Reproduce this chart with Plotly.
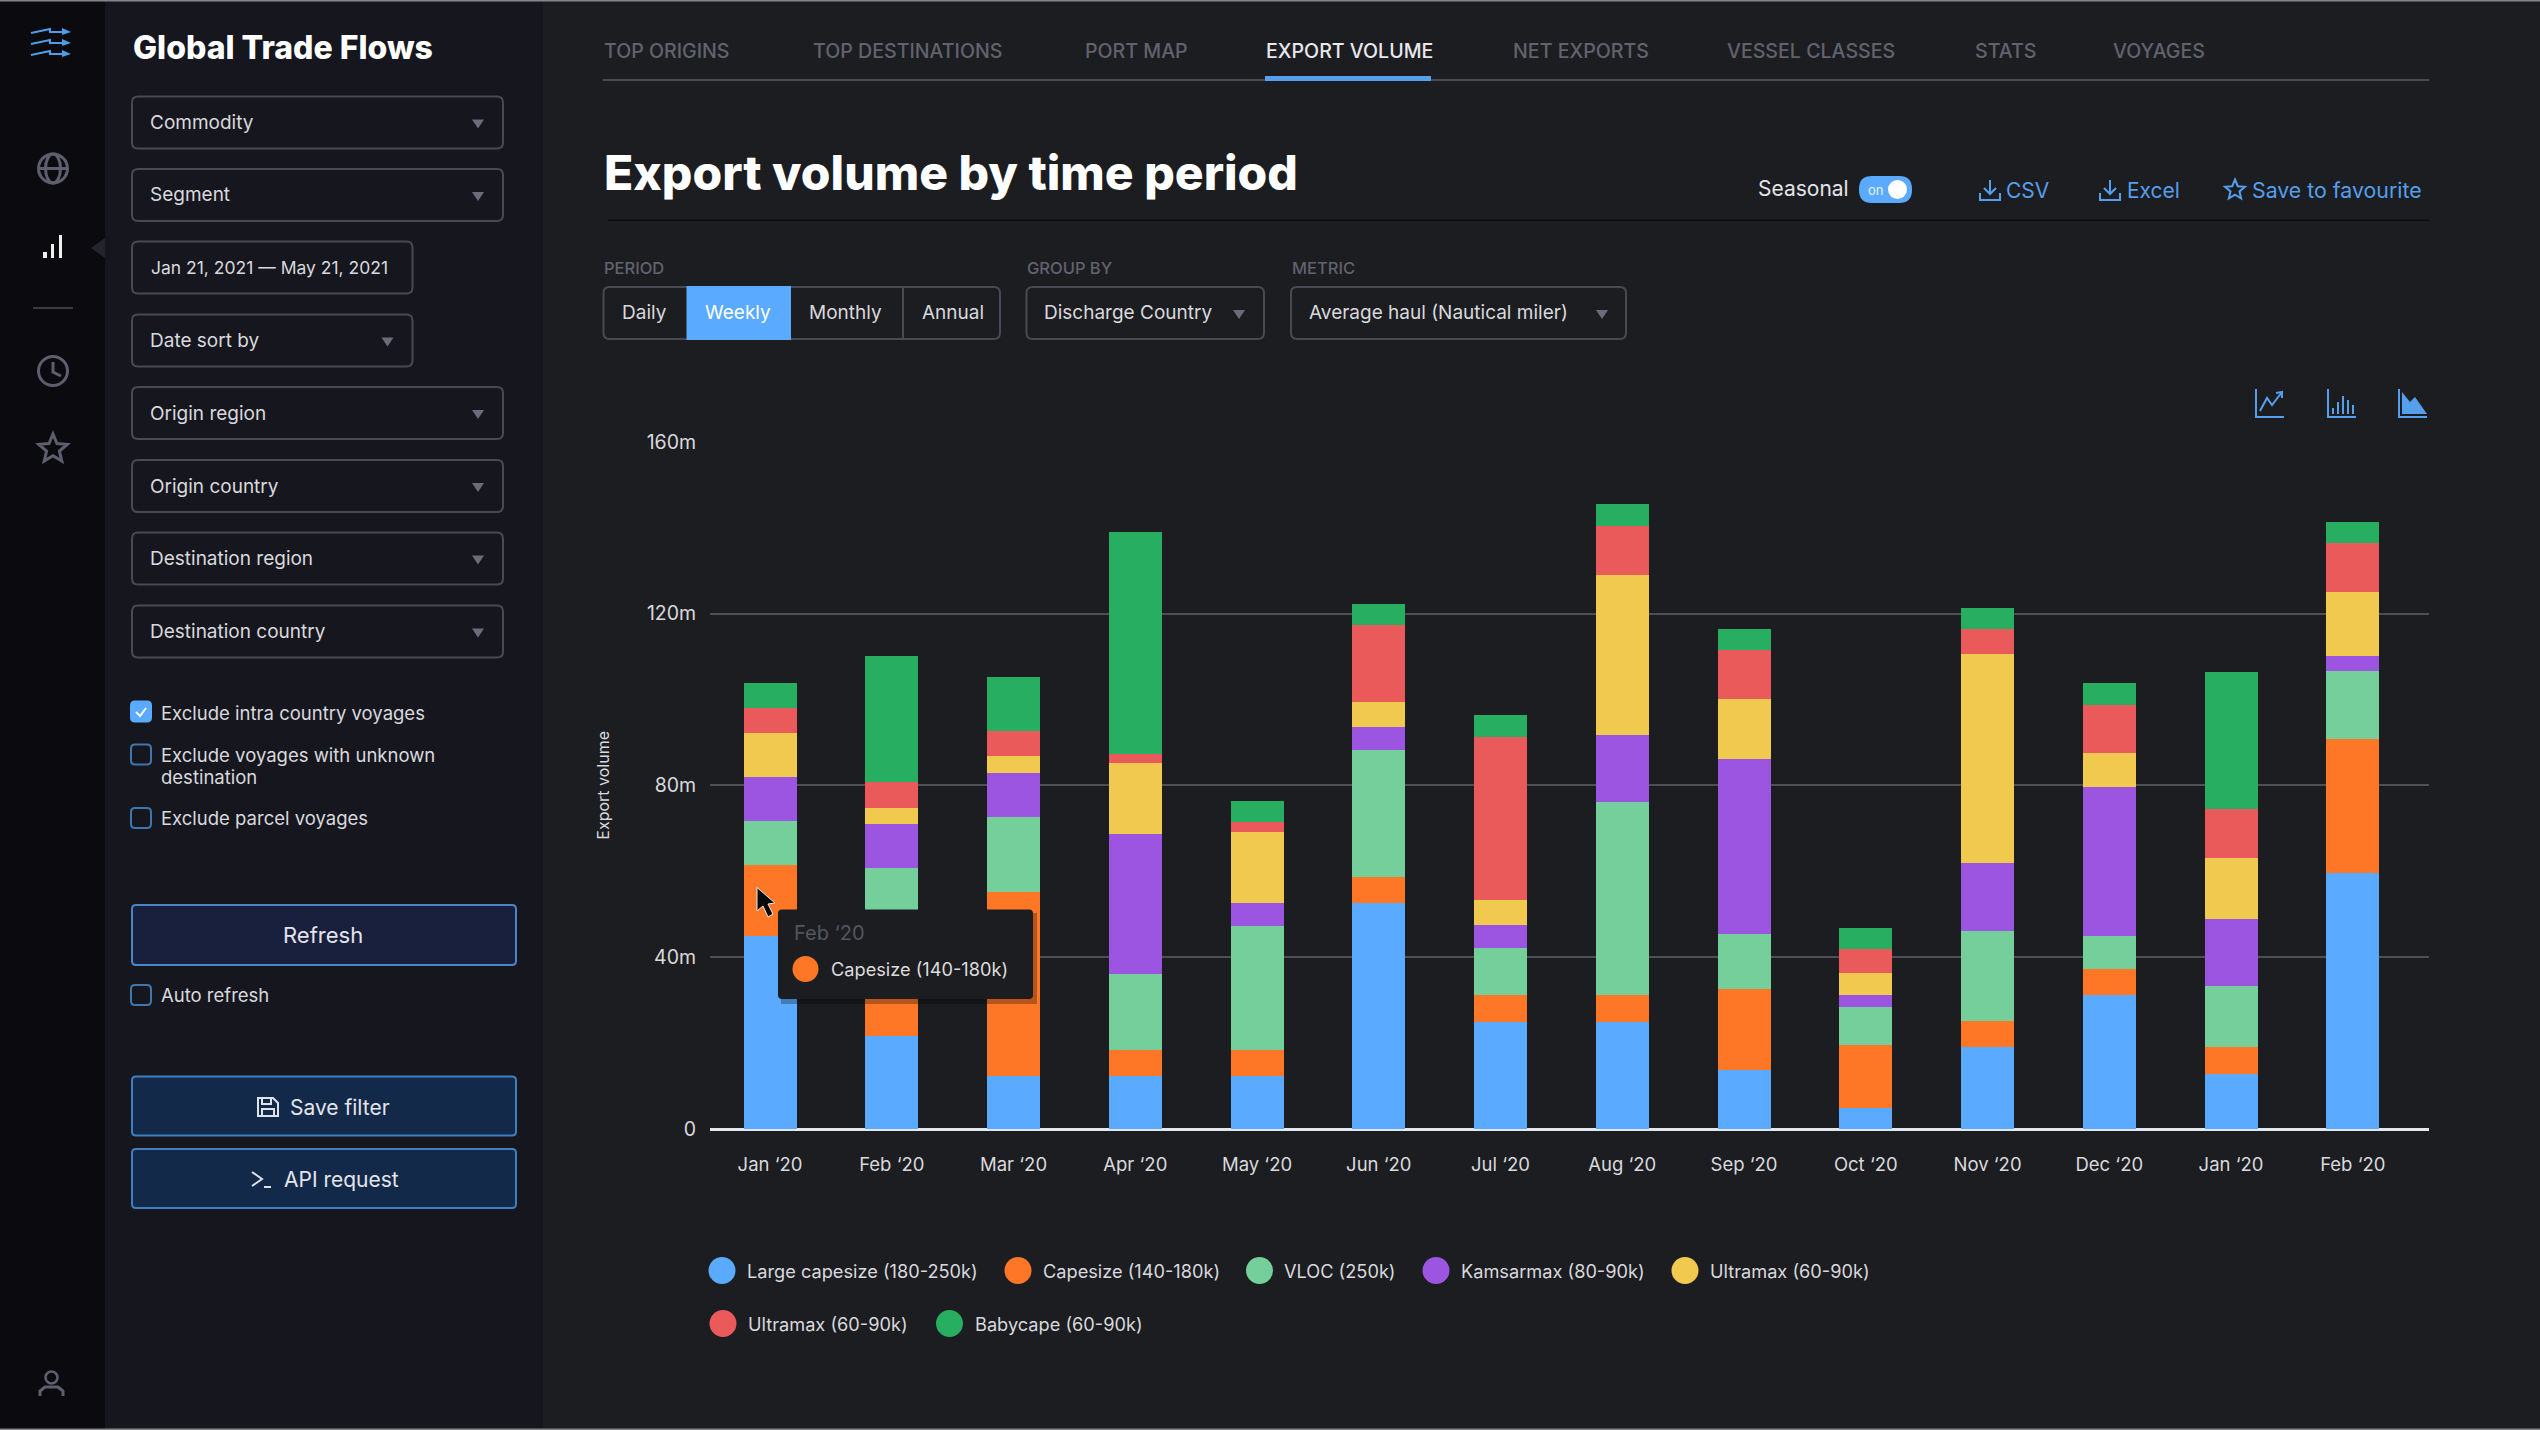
import math
import plotly.graph_objects as go

W, H = 2540, 1430

# chart data (millions per month)
months = ["Jan ‘20", "Feb ‘20", "Mar ‘20", "Apr ‘20", "May ‘20", "Jun ‘20", "Jul ‘20",
          "Aug ‘20", "Sep ‘20", "Oct ‘20", "Nov ‘20", "Dec ‘20", "Jan ‘20", "Feb ‘20"]
large_capesize = [45, 21.6, 12.4, 12.4, 12.4, 52.7, 24.8, 24.8, 13.7, 4.8, 19.1, 31.1, 12.8, 59.5]
capesize = [16.4, 18.4, 42.7, 6.1, 6.1, 6, 6.4, 6.4, 18.9, 14.8, 6, 6.1, 6.2, 31.3]
vloc = [10.3, 20.8, 17.5, 17.5, 28.8, 29.6, 11, 44.9, 12.7, 8.7, 21.1, 7.8, 14.2, 15.8]
kamsarmax = [10.2, 10.1, 10.3, 32.7, 5.3, 5.3, 5.2, 15.7, 40.9, 3, 15.7, 34.7, 15.7, 3.6]
ultramax_a = [10.3, 3.9, 3.9, 16.5, 16.6, 5.9, 5.9, 37.2, 13.9, 5.1, 48.6, 7.8, 14.2, 14.9]
ultramax_b = [5.8, 5.9, 5.8, 2.2, 2.2, 17.8, 38, 11.3, 11.3, 5.4, 5.8, 11.3, 11.4, 11.3]
babycape = [5.8, 29.3, 12.7, 51.5, 5, 5, 5, 5.1, 5, 4.9, 4.9, 5, 31.8, 5]

series_names = ["Large capesize (180-250k)", "Capesize (140-180k)", "VLOC (250k)", "Kamsarmax (80-90k)",
                "Ultramax (60-90k)", "Ultramax (60-90k)", "Babycape (60-90k)"]
series_values = [large_capesize, capesize, vloc, kamsarmax, ultramax_a, ultramax_b, babycape]
series_colors = ["#5aabff", "#fd7726", "#74cf9b", "#9b55e0", "#f2c94f", "#eb5a5a", "#27ae60"]
y_ticks = [0, 40, 80, 120, 160]
y_tick_labels = ["0", "40m", "80m", "120m", "160m"]

FONT = "Inter"
BLUE = "#559fec"
TEXT = "#d9d9dd"
MUTED = "#62626e"
BORDER = "#494954"
ICON = "#5e5e6e"

shapes = []
annotations = []


def fx(px):
    return px / W


def fy(py):
    return 1 - py / H


def add_shape(**kw):
    shapes.append(dict(xref="paper", yref="paper", **kw))


def rect(x0, y0, x1, y1, fill=None, line=None, width=2, layer="above"):
    add_shape(type="rect", x0=fx(x0), x1=fx(x1), y0=fy(y1), y1=fy(y0), layer=layer,
              fillcolor=fill or "rgba(0,0,0,0)",
              line=dict(color=line or "rgba(0,0,0,0)", width=width if line else 0))


def round_rect(x0, y0, x1, y1, r=6, fill=None, line=BORDER, width=2):
    def p(x, y):
        return f"{fx(x):.6f},{fy(y):.6f}"
    d = (f"M{p(x0 + r, y0)} L{p(x1 - r, y0)} Q{p(x1, y0)} {p(x1, y0 + r)} L{p(x1, y1 - r)} "
         f"Q{p(x1, y1)} {p(x1 - r, y1)} L{p(x0 + r, y1)} Q{p(x0, y1)} {p(x0, y1 - r)} "
         f"L{p(x0, y0 + r)} Q{p(x0, y0)} {p(x0 + r, y0)} Z")
    add_shape(type="path", path=d, fillcolor=fill or "rgba(0,0,0,0)",
              line=dict(color=line or "rgba(0,0,0,0)", width=width if line else 0))


def poly(points, color=ICON, width=3, fill=None, close=False):
    d = "M" + " L".join(f"{fx(x):.6f},{fy(y):.6f}" for x, y in points)
    if close:
        d += " Z"
    add_shape(type="path", path=d, fillcolor=fill or "rgba(0,0,0,0)",
              line=dict(color=color, width=width))


def circle(cx, cy, rx, ry=None, fill=None, line=None, width=3):
    ry = ry or rx
    add_shape(type="circle", x0=fx(cx - rx), x1=fx(cx + rx), y0=fy(cy + ry), y1=fy(cy - ry),
              fillcolor=fill or "rgba(0,0,0,0)",
              line=dict(color=line or "rgba(0,0,0,0)", width=width if line else 0))


def text(x, y, s, size=19, color=TEXT, anchor="left", weight=400, family=FONT):
    annotations.append(dict(xref="paper", yref="paper", x=fx(x), y=fy(y), text=s, showarrow=False,
                            xanchor=anchor, yanchor="middle", borderpad=0,
                            font=dict(family=family, size=size, color=color, weight=weight)))


def star(cx, cy, r, color=ICON, width=3):
    pts = []
    for i in range(10):
        a = -math.pi / 2 + i * math.pi / 5
        rr = r if i % 2 == 0 else r * 0.45
        pts.append((cx + rr * math.cos(a), cy + rr * math.sin(a)))
    poly(pts, color=color, width=width, close=True)


def download_icon(x, y):
    poly([(x + 10, y), (x + 10, y + 13)], BLUE, 2)
    poly([(x + 4, y + 8), (x + 10, y + 14), (x + 16, y + 8)], BLUE, 2)
    poly([(x, y + 13), (x, y + 20), (x + 20, y + 20), (x + 20, y + 13)], BLUE, 2)


def triangle_down(cx, cy):
    poly([(cx - 6, cy - 4), (cx + 6, cy - 4), (cx, cy + 5)], color="#6b6b7a", width=0, fill="#6b6b7a", close=True)


# background panels
rect(0, 0, 105, H, fill="#0a0a0f", layer="below")
rect(105, 0, 543, H, fill="#16171e", layer="below")
rect(0, 0, W, 1.5, fill="#85858a")
rect(0, H - 1.5, W, H, fill="#85858a")

# left rail icons
for y0 in (30, 41, 52):
    poly([(31, y0 + 3), (50, y0 - 1), (50, y0 + 2), (63, y0 + 2)], "#4d9de8", 2)
    poly([(62, y0 - 2), (71, y0 + 2), (62, y0 + 5)], "#4d9de8", 0, fill="#4d9de8", close=True)
circle(53, 168.5, 14.5, line=ICON)
circle(53, 168.5, 7.5, 14.5, line=ICON)
poly([(39, 168.5), (67, 168.5)])
rect(43, 252, 47, 258, fill="#f0f0f0")
rect(51, 244, 54, 258, fill="#f0f0f0")
rect(59, 235, 62, 258, fill="#f0f0f0")
poly([(105, 238), (91, 248), (105, 258)], "#24242c", 0, fill="#24242c", close=True)
poly([(33, 308), (73, 308)], "#3c3c46", 2)
circle(53, 371, 14.5, line=ICON)
poly([(53, 362), (53, 372), (61, 376)])
star(53, 449, 15)
circle(51.5, 1377.5, 6, line=ICON, width=2.5)
poly([(40, 1396), (40, 1391), (45, 1387), (58, 1387), (63, 1391), (63, 1396)], ICON, 3)

# filter panel
text(132, 48, "Global Trade Flows", size=32, color="#ffffff", weight=800)
dropdowns = [("Commodity", 96.5, 503), ("Segment", 169, 503), ("Date sort by", 314.5, 412.5),
             ("Origin region", 387, 503), ("Origin country", 460, 503),
             ("Destination region", 532.5, 503), ("Destination country", 605.5, 503)]
for label, top, right in dropdowns:
    round_rect(132, top, right, top + 52)
    text(148.5, top + 26, label)
    triangle_down(right - 25, top + 27)
round_rect(132, 241.5, 412.5, 293.5)
text(150, 267.5, "Jan 21, 2021 — May 21, 2021", size=17.5)

checks = [(701.5, True), (744.5, False), (808, False), (985, False)]
for top, on in checks:
    round_rect(131, top, 151, top + 20, r=4, fill=("#5aabff" if on else None), line=("#5aabff" if on else "#3f76ae"))
poly([(136, 712), (140, 716), (146, 708)], "#ffffff", 2)
text(160, 712.5, "Exclude intra country voyages", size=18.5)
text(160, 754.5, "Exclude voyages with unknown", size=18.5)
text(160, 777, "destination", size=18.5)
text(160, 818, "Exclude parcel voyages", size=18.5)
text(160, 995, "Auto refresh", size=18.5)

round_rect(132, 905, 516, 965, r=4, fill="#19203d", line="#4a86c5")
text(322.5, 935, "Refresh", size=22, color="#e4e4ea", anchor="center")
round_rect(132, 1076.5, 516, 1135.5, r=4, fill="#12294a", line="#3f7fc0")
text(340, 1107, "Save filter", size=21, color="#e4e4ea", anchor="center")
round_rect(132, 1149, 516, 1208, r=4, fill="#12294a", line="#3f7fc0")
text(341, 1179.5, "API request", size=21, color="#e4e4ea", anchor="center")
# save + terminal icons
poly([(258, 1098), (273, 1098), (278, 1103), (278, 1116), (258, 1116)], "#dfe3ea", 2, close=True)
poly([(262, 1098), (262, 1104), (271, 1104), (271, 1098)], "#dfe3ea", 2)
poly([(262, 1116), (262, 1109), (274, 1109), (274, 1116)], "#dfe3ea", 2)
poly([(252, 1172), (262, 1179), (252, 1186)], "#dfe3ea", 2)
poly([(264, 1187), (271, 1187)], "#dfe3ea", 2)

# tabs
tabs = [("TOP ORIGINS", 603), ("TOP DESTINATIONS", 812), ("PORT MAP", 1084), ("EXPORT VOLUME", 1265),
        ("NET EXPORTS", 1512), ("VESSEL CLASSES", 1726), ("STATS", 1974), ("VOYAGES", 2112)]
for label, x in tabs:
    active = label == "EXPORT VOLUME"
    text(x, 51, label, size=19.6, color="#e8e8ec" if active else MUTED, weight=500)
rect(603, 79, 2429, 81, fill="#4a4a55")
rect(1265, 76, 1431, 81, fill="#559fec")

# heading row
text(603, 172, "Export volume by time period", size=48, color="#ffffff", weight=800)
rect(608, 219.5, 2429, 221, fill="#0c0c10")
text(1757, 189, "Seasonal", size=21, color="#e4e4e8")
round_rect(1859, 176, 1912, 203, r=13, fill="#5aabff", line=None)
circle(1897.5, 189.5, 9.5, fill="#ffffff")
text(1875, 190, "on", size=13, color="#e8f2ff", anchor="center")
download_icon(1980, 180)
text(2005, 190, "CSV", size=21, color=BLUE)
download_icon(2100, 180)
text(2126, 190, "Excel", size=21, color=BLUE)
star(2235, 190, 10.5, color=BLUE, width=2)
text(2251, 190, "Save to favourite", size=21.3, color=BLUE)

# period / group by / metric controls
text(603, 268, "PERIOD", size=16.5, color=MUTED, weight=500)
text(1026, 268, "GROUP BY", size=16.5, color=MUTED, weight=500)
text(1291, 268, "METRIC", size=16.5, color=MUTED, weight=500)
round_rect(603.5, 287, 1000, 339)
rect(686.5, 286, 791, 340, fill="#5aabff")
poly([(903, 287), (903, 339)], BORDER, 2)
for label, x in [("Daily", 644.5), ("Weekly", 737.5), ("Monthly", 845), ("Annual", 953)]:
    text(x, 313, label, color="#ffffff" if label == "Weekly" else TEXT, anchor="center")
round_rect(1026.5, 287, 1264, 339)
text(1043, 313, "Discharge Country")
triangle_down(1239, 314)
round_rect(1291, 287, 1626, 339)
text(1308, 313, "Average haul (Nautical miler)")
triangle_down(1602, 314)

# chart type icons
for x in (2256, 2328, 2399):
    poly([(x, 389), (x, 417), (x + 28, 417)], BLUE, 2)
poly([(2260, 411), (2267, 398), (2272, 405), (2282, 392)], BLUE, 2)
poly([(2276, 393), (2282, 392), (2282, 398)], BLUE, 2)
for i, top in enumerate((408, 402, 396, 400, 405)):
    poly([(2333 + i * 5, 414), (2333 + i * 5, top)], BLUE, 2)
poly([(2402, 414), (2402, 392), (2410, 402), (2415, 397), (2427, 414)], BLUE, 0, fill=BLUE, close=True)

# legend row, built from the series lists
legend_slots = [(722, 1270.5), (1018, 1270.5), (1259.5, 1270.5), (1436, 1270.5), (1685, 1270.5),
                (723, 1323.5), (949.5, 1323.5)]
for name, color, (cx, cy) in zip(series_names, series_colors, legend_slots):
    circle(cx, cy, 13.5, fill=color)
    text(cx + 24, cy, name, size=18.2)

# tooltip and cursor on top of the bars
rect(781, 913, 1037, 1004, fill="rgba(0,0,0,0.28)")
round_rect(778, 909.5, 1033, 999, r=4, fill="#1c1d21", line=None)
text(793, 933, "Feb ‘20", size=20, color="#55555f")
circle(805.5, 969, 13, fill=series_colors[1])
text(830, 969, series_names[1], size=18.2, color="#dcdcdc")
poly([(757, 887.5), (757, 911), (763, 906), (768, 917), (773, 914), (768, 904), (775, 903)],
     "#e8e8e8", 1, fill="#0a0a0a", close=True)

fig = go.Figure()
for name, values, color in zip(series_names, series_values, series_colors):
    fig.add_trace(go.Bar(x=list(range(len(months))), y=values, name=name,
                         marker=dict(color=color, line=dict(width=0))))

fig.update_layout(
    width=W, height=H, margin=dict(l=0, r=0, t=0, b=0), autosize=False,
    barmode="stack", bargap=0.565, showlegend=False,
    paper_bgcolor="#1c1d21", plot_bgcolor="rgba(0,0,0,0)",
    font=dict(family=FONT, size=19, color=TEXT),
    shapes=shapes, annotations=annotations,
    xaxis=dict(domain=[fx(710), fx(2429)], range=[-0.493, 13.626], tickmode="array",
               tickvals=list(range(len(months))), ticktext=months, showgrid=False, zeroline=False,
               ticks="outside", ticklen=19, tickcolor="rgba(0,0,0,0)", tickfont=dict(size=18.5),
               fixedrange=True, automargin=False),
    yaxis=dict(domain=[fy(1129), fy(441.7)], range=[0, 160], tickmode="array", tickvals=y_ticks,
               ticktext=y_tick_labels, gridcolor="#4e4e59", gridwidth=1.5, zeroline=True,
               zerolinecolor="#e3e7ee", zerolinewidth=3, ticks="outside", ticklen=9,
               tickcolor="rgba(0,0,0,0)", tickfont=dict(size=19.5), fixedrange=True, automargin=False,
               title=dict(text="Export volume", font=dict(size=16, color=TEXT), standoff=33)),
)

fig.write_html("out.html", config=dict(displayModeBar=False),
               post_script="document.body.style.margin='0';document.body.style.overflow='hidden';")
